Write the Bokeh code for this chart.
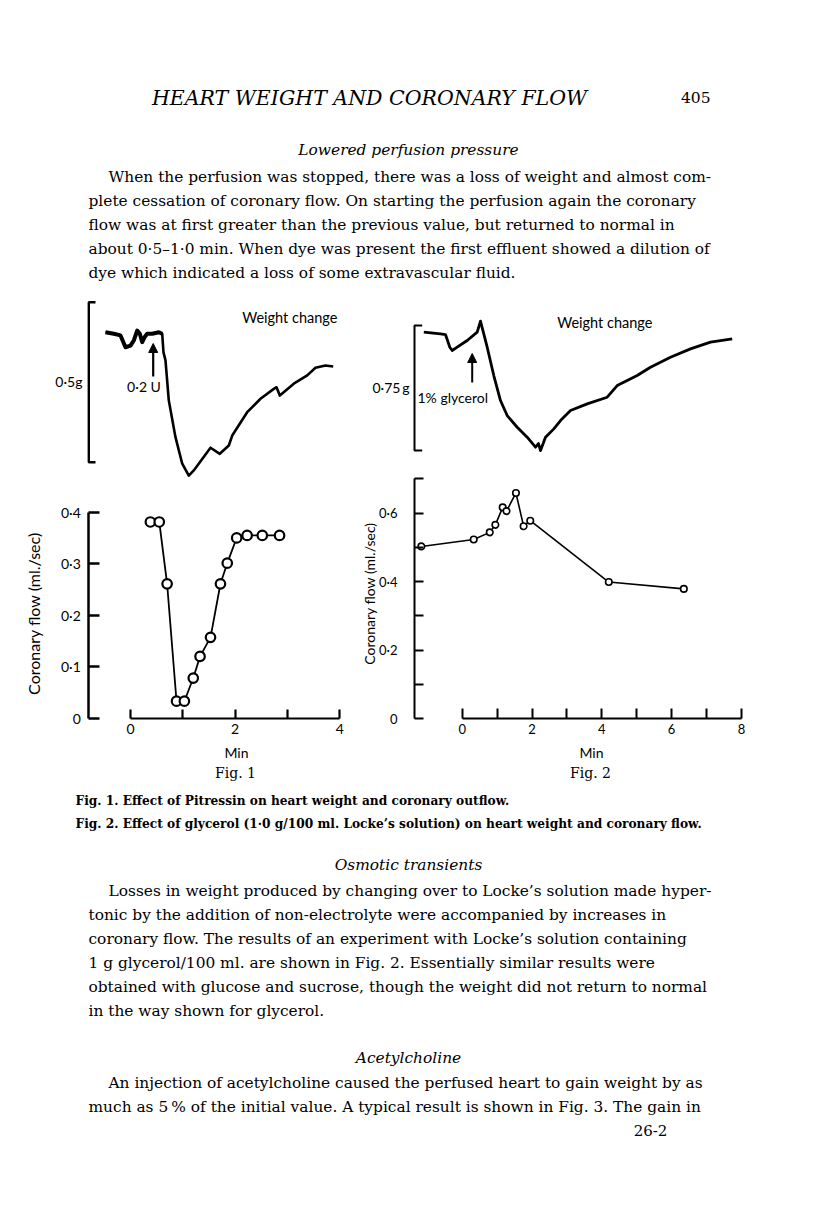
import numpy as np
from bokeh.plotting import figure
from bokeh.models import (Range1d, LinearAxis, FixedTicker, CustomJSTickFormatter,
                          Arrow, NormalHead)
from bokeh.core.properties import value
from bokeh.embed import file_html
from bokeh.resources import INLINE

# ---------------- data ----------------
# Fig. 1 : Pitressin
fig1_flow_min = [0.38, 0.55, 0.70, 0.88, 1.03, 1.20, 1.33, 1.53, 1.72, 1.85, 2.03, 2.23, 2.52, 2.85]
fig1_flow = [0.381, 0.381, 0.261, 0.033, 0.033, 0.078, 0.120, 0.157, 0.261, 0.301, 0.350, 0.355, 0.355, 0.355]
fig1_weight_min = [-0.478, -0.319, -0.191, -0.096, 0.000, 0.063, 0.128, 0.178, 0.224, 0.268, 0.319,
                   0.415, 0.541, 0.606, 0.631, 0.669, 0.732, 0.860, 0.989, 1.115, 1.210, 1.371,
                   1.530, 1.707, 1.880, 1.945, 2.231, 2.486, 2.740, 2.792, 2.855, 3.122, 3.379,
                   3.537, 3.728, 3.876]
fig1_weight_g = [0.000, -0.005, -0.010, -0.047, -0.042, -0.026, 0.005, -0.005, -0.031, -0.016, -0.005,
                 -0.005, 0.000, -0.005, -0.063, -0.088, -0.213, -0.328, -0.411, -0.448, -0.432, -0.396,
                 -0.361, -0.380, -0.354, -0.323, -0.250, -0.208, -0.177, -0.172, -0.198, -0.161, -0.135,
                 -0.111, -0.104, -0.107]

# Fig. 2 : glycerol
fig2_flow_min = [-1.17, 0.33, 0.79, 0.95, 1.16, 1.27, 1.54, 1.76, 1.95, 4.20, 6.35]
fig2_flow = [0.503, 0.523, 0.544, 0.566, 0.617, 0.606, 0.659, 0.562, 0.578, 0.399, 0.379]
fig2_weight_min = [-1.100, -0.622, -0.479, -0.355, -0.287, -0.143, 0.143, 0.430, 0.524, 0.716, 0.905,
                   1.097, 1.289, 1.576, 1.862, 2.100, 2.186, 2.244, 2.387, 2.625, 2.817, 3.103,
                   3.582, 4.155, 4.441, 5.014, 5.395, 5.968, 6.541, 7.115, 7.736]
fig2_weight_g = [0.000, -0.010, -0.014, -0.090, -0.110, -0.090, -0.050, 0.000, 0.066, -0.090, -0.260,
                 -0.410, -0.500, -0.570, -0.630, -0.690, -0.668, -0.710, -0.630, -0.580, -0.530, -0.470,
                 -0.430, -0.390, -0.320, -0.260, -0.210, -0.150, -0.100, -0.060, -0.040]

fig1_flow_ticks = [0, 0.1, 0.2, 0.3, 0.4]
fig1_time_ticks = [0, 1, 2, 3, 4]
fig2_flow_ticks = [0, 0.2, 0.4, 0.6]
fig2_flow_minor = [0.1, 0.3, 0.5, 0.7]
fig2_time_ticks = [0, 1, 2, 3, 4, 5, 6, 7, 8]
scale_bars_g = [0.5, 0.75]
scale_bar_labels = ["0\u00b75g", "0\u00b775\u2009g"]
flow_label = "Coronary flow (ml./sec)"

header = "HEART WEIGHT AND CORONARY FLOW"
page_no = "405"
heading1 = "Lowered perfusion pressure"
para1 = ["When the perfusion was stopped, there was a loss of weight and almost com-",
         "plete cessation of coronary flow.  On starting the perfusion again the coronary",
         "flow was at first greater than the previous value, but returned to normal in",
         "about 0\u00b75\u20131\u00b70 min. When dye was present the first effluent showed a dilution of",
         "dye which indicated a loss of some extravascular fluid."]
captions = ["Fig. 1.  Effect of Pitressin on heart weight and coronary outflow.",
            "Fig. 2.  Effect of glycerol (1\u00b70 g/100 ml. Locke\u2019s solution) on heart weight and coronary flow."]
heading2 = "Osmotic transients"
para2 = ["Losses in weight produced by changing over to Locke\u2019s solution made hyper-",
         "tonic by the addition of non-electrolyte were accompanied by increases in",
         "coronary flow. The results of an experiment with Locke\u2019s solution containing",
         "1 g glycerol/100 ml. are shown in Fig. 2.  Essentially similar results were",
         "obtained with glucose and sucrose, though the weight did not return to normal",
         "in the way shown for glycerol."]
heading3 = "Acetylcholine"
para3 = ["An injection of acetylcholine caused the perfused heart to gain weight by as",
         "much as 5\u2009% of the initial value.  A typical result is shown in Fig. 3. The gain in"]
signature = "26-2"

# ---------------- page figure (pixel layout) ----------------
PX0, PX1 = 0, 800
PY0, PY1 = 0, 1189
SERIF = value("DejaVu Serif")
SANS = value("Lato")

p = figure(width=800, height=1189, x_range=Range1d(PX0, PX1), y_range=Range1d(PY1, PY0),
           x_axis_type=None, y_axis_type=None, output_backend="svg",
           toolbar_location=None, min_border=0)
p.grid.visible = False
p.outline_line_color = None
p.background_fill_color = "white"


def xr(x0, s):
    return Range1d((PX0 - x0) / s, (PX1 - x0) / s)


def yr(y0, s):
    return Range1d((y0 - PY1) / s, (y0 - PY0) / s)


# layout of the panels (pixel origin, pixels per unit)
F1_X0, F1_XS = 130.0, 52.3
F2_X0, F2_XS = 461.7, 34.9
F1_Q0, F1_QS = 717.7, 515.0
F2_Q0, F2_QS = 718.3, 342.7
W_Y0 = 331.7
F1_WS, F2_WS = 320.0, 166.7

p.extra_x_ranges = {"t1": xr(F1_X0, F1_XS), "t2": xr(F2_X0, F2_XS)}
p.extra_y_ranges = {"q1": yr(F1_Q0, F1_QS), "q2": yr(F2_Q0, F2_QS),
                    "w1": yr(W_Y0, F1_WS), "w2": yr(W_Y0, F2_WS)}

dot_fmt = CustomJSTickFormatter(code="return tick == 0 ? '0' : tick.toFixed(1).replace('.', '\u00b7');")
even_fmt = CustomJSTickFormatter(code="return (Math.round(tick) % 2 == 0) ? tick.toFixed(0) : '';")

# ---- Fig. 1 axes ----
a = LinearAxis(y_range_name="q1", fixed_location=88.3, bounds=(0, 0.4),
               ticker=FixedTicker(ticks=fig1_flow_ticks), formatter=dot_fmt,
               major_tick_in=11, major_tick_out=0, minor_tick_in=0, minor_tick_out=0,
               axis_line_width=2.5, major_tick_line_width=2.5, major_label_standoff=8,
               major_label_text_font="Lato", major_label_text_font_size="14px",
               major_label_text_color="black", axis_line_color="black", major_tick_line_color="black")
p.add_layout(a, "left")
a = LinearAxis(x_range_name="t1", fixed_location=717.7, bounds=(0, 4),
               ticker=FixedTicker(ticks=fig1_time_ticks), formatter=even_fmt,
               major_tick_in=9, major_tick_out=0, minor_tick_in=0, minor_tick_out=0,
               axis_line_width=2.2, major_tick_line_width=2.2, major_label_standoff=6,
               major_label_text_font="Lato", major_label_text_font_size="14px",
               major_label_text_color="black", axis_line_color="black", major_tick_line_color="black")
p.add_layout(a, "below")

# ---- Fig. 2 axes ----
a = LinearAxis(y_range_name="q2", fixed_location=414.0, bounds=(0, 0.7),
               ticker=FixedTicker(ticks=fig2_flow_ticks, minor_ticks=fig2_flow_minor), formatter=dot_fmt,
               major_tick_in=9, major_tick_out=0, minor_tick_in=9, minor_tick_out=0,
               axis_line_width=2.0, major_tick_line_width=2.0, minor_tick_line_width=2.0,
               major_label_standoff=17,
               major_label_text_font="Lato", major_label_text_font_size="13px",
               major_label_text_color="black", axis_line_color="black",
               major_tick_line_color="black", minor_tick_line_color="black")
p.add_layout(a, "left")
a = LinearAxis(x_range_name="t2", fixed_location=718.3, bounds=(0, 8),
               ticker=FixedTicker(ticks=fig2_time_ticks), formatter=even_fmt,
               major_tick_in=10, major_tick_out=0, minor_tick_in=0, minor_tick_out=0,
               axis_line_width=2.0, major_tick_line_width=2.0, major_label_standoff=5,
               major_label_text_font="Lato", major_label_text_font_size="13px",
               major_label_text_color="black", axis_line_color="black", major_tick_line_color="black")
p.add_layout(a, "below")

# ---- flow curves ----
p.line(fig1_flow_min, fig1_flow, x_range_name="t1", y_range_name="q1", line_color="black", line_width=1.8)
p.scatter(fig1_flow_min, fig1_flow, x_range_name="t1", y_range_name="q1", marker="circle", size=9.5,
          fill_color="white", line_color="black", line_width=2.2)
p.line(fig2_flow_min, fig2_flow, x_range_name="t2", y_range_name="q2", line_color="black", line_width=1.6)
p.scatter(fig2_flow_min, fig2_flow, x_range_name="t2", y_range_name="q2", marker="circle", size=6.5,
          fill_color="white", line_color="black", line_width=1.6)

# ---- weight traces ----
n_pre = sum(1 for t in fig1_weight_min if t <= 0.61)
p.line(fig1_weight_min, fig1_weight_g, x_range_name="t1", y_range_name="w1", line_color="black",
       line_width=2.6, line_join="round")
p.line(fig1_weight_min[:n_pre], fig1_weight_g[:n_pre], x_range_name="t1", y_range_name="w1",
       line_color="black", line_width=4.0, line_join="round")
p.line(fig2_weight_min, fig2_weight_g, x_range_name="t2", y_range_name="w2", line_color="black",
       line_width=2.8, line_join="round")

# ---- scale brackets (length = scale_bars_g) ----
b1_top = (W_Y0 - 301.7) / F1_WS
p.multi_line(xs=[[95.0, 88.3, 88.3, 95.0]], ys=[[b1_top, b1_top, b1_top - scale_bars_g[0], b1_top - scale_bars_g[0]]],
             y_range_name="w1", line_color="black", line_width=2.4)
b2_top = (W_Y0 - 325.0) / F2_WS
p.multi_line(xs=[[421.7, 414.0, 414.0, 421.7]], ys=[[b2_top, b2_top, b2_top - scale_bars_g[1], b2_top - scale_bars_g[1]]],
             y_range_name="w2", line_color="black", line_width=2.0)

# ---- arrows ----
p.add_layout(Arrow(end=NormalHead(size=9, fill_color="black", line_color="black", line_width=1),
                   x_start=152.7, y_start=376, x_end=152.7, y_end=343, line_width=2.2, line_color="black"))
p.add_layout(Arrow(end=NormalHead(size=9, fill_color="black", line_color="black", line_width=1),
                   x_start=471.7, y_start=382, x_end=471.7, y_end=353, line_width=2.0, line_color="black"))

# ---- figure labels ----
p.text(x=[241.7, 556.7], y=[317, 322], text=["Weight change", "Weight change"], text_font=SANS,
       text_font_size=value("14.5px"), text_align="left", text_baseline="middle", text_color="black")
p.text(x=[82, 409], y=[381, 387], text=scale_bar_labels, text_font=SANS,
       text_font_size=value("14px"), text_align="right", text_baseline="middle", text_color="black")
p.text(x=[143.5], y=[386], text=["0\u00b72 U"], text_font=SANS,
       text_font_size=value("14px"), text_align="center", text_baseline="middle", text_color="black")
p.text(x=[417], y=[397], text=["1% glycerol"], text_font=SANS,
       text_font_size=value("14px"), text_align="left", text_baseline="middle", text_color="black")
p.text(x=[33], y=[613], text=[flow_label], angle=np.pi / 2, text_font=SANS,
       text_font_size=value("16px"), text_align="center", text_baseline="middle", text_color="black")
p.text(x=[369], y=[593], text=[flow_label], angle=np.pi / 2, text_font=SANS,
       text_font_size=value("14px"), text_align="center", text_baseline="middle", text_color="black")
p.text(x=[236, 591], y=[752, 752], text=["Min", "Min"], text_font=SANS,
       text_font_size=value("14px"), text_align="center", text_baseline="middle", text_color="black")
p.text(x=[235, 590], y=[772, 772], text=["Fig. 1", "Fig. 2"], text_font=SERIF,
       text_font_size=value("14px"), text_align="center", text_baseline="middle", text_color="black")

# ---- page text ----
p.text(x=[369], y=[97], text=[header], text_font=SERIF, text_font_style="italic",
       text_font_size=value("20.5px"), text_align="center", text_baseline="middle", text_color="black")
p.text(x=[710], y=[97], text=[page_no], text_font=SERIF,
       text_font_size=value("15.5px"), text_align="right", text_baseline="middle", text_color="black")
p.text(x=[408, 408, 408], y=[149, 864, 1057], text=[heading1, heading2, heading3], text_font=SERIF,
       text_font_style="italic", text_font_size=value("15.4px"), text_align="center",
       text_baseline="middle", text_color="black")


def para(lines, y0):
    xs = [108] + [88] * (len(lines) - 1)
    ys = [y0 + 24 * i for i in range(len(lines))]
    p.text(x=xs, y=ys, text=lines, text_font=SERIF, text_font_size=value("15.4px"),
           text_align="left", text_baseline="middle", text_color="black")


para(para1, 176)
para(para2, 890)
para(para3, 1082)
p.text(x=[75, 75], y=[800, 823], text=captions, text_font=SERIF, text_font_style="bold",
       text_font_size=value("12.2px"), text_align="left", text_baseline="middle", text_color="black")
p.text(x=[650], y=[1130], text=[signature], text_font=SERIF,
       text_font_size=value("15px"), text_align="center", text_baseline="middle", text_color="black")

open("out.html", "w", encoding="utf-8").write(file_html(p, INLINE))
